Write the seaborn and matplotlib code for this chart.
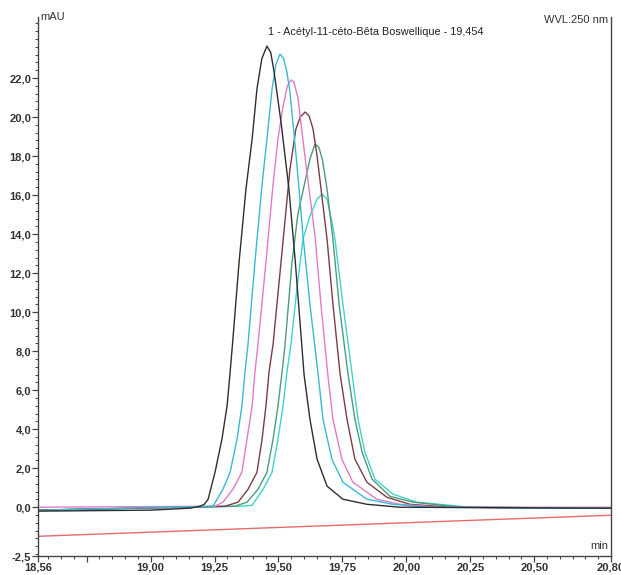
import matplotlib
matplotlib.use("Agg")
import matplotlib.pyplot as plt
import numpy as np
import pandas as pd
import seaborn as sns
from matplotlib.ticker import FixedLocator, MultipleLocator

# retention time (min) / absorbance (mAU)
black_t = [18.56, 19.00, 19.154, 19.193, 19.210, 19.225, 19.252, 19.279, 19.299, 19.311, 19.322,
           19.346, 19.373, 19.397, 19.416, 19.435, 19.455, 19.470, 19.483, 19.510, 19.541,
           19.565, 19.600, 19.623, 19.651, 19.690, 19.752, 19.846, 19.975, 20.80]
black_y = [-0.20, -0.15, -0.05, 0.05, 0.15, 0.41, 1.79, 3.49, 5.18, 6.92, 8.62,
           12.56, 16.31, 18.87, 21.44, 23.00, 23.64, 23.30, 22.31, 19.74, 16.31,
           12.72, 6.82, 4.51, 2.46, 1.08, 0.41, 0.15, 0.00, -0.05]

cyan_t = [18.56, 19.244, 19.283, 19.311, 19.338, 19.357, 19.369, 19.381, 19.408, 19.436,
          19.455, 19.475, 19.490, 19.506, 19.520, 19.533, 19.545, 19.572, 19.596, 19.623,
          19.655, 19.674, 19.709, 19.752, 19.846, 19.948, 20.09, 20.80]
cyan_y = [-0.15, 0.05, 0.92, 1.79, 3.49, 5.18, 6.92, 8.36, 12.56, 16.56,
          18.87, 21.44, 22.70, 23.23, 23.00, 22.31, 21.28, 17.59, 13.90, 10.41,
          6.82, 4.51, 2.46, 1.28, 0.41, 0.15, 0.00, -0.05]

pink_t = [18.56, 19.252, 19.283, 19.322, 19.357, 19.377, 19.397, 19.408, 19.420, 19.451,
          19.479, 19.498, 19.518, 19.535, 19.549, 19.560, 19.576, 19.607, 19.643, 19.666,
          19.694, 19.713, 19.748, 19.791, 19.885, 19.975, 20.13, 20.80]
pink_y = [0.00, 0.05, 0.26, 0.92, 1.79, 3.49, 5.18, 6.92, 8.36, 12.56,
          16.56, 18.87, 20.56, 21.60, 21.90, 21.80, 21.00, 17.59, 13.90, 10.41,
          6.67, 4.51, 2.46, 1.28, 0.41, 0.15, 0.00, 0.00]

brown_t = [18.56, 19.291, 19.342, 19.381, 19.416, 19.436, 19.451, 19.463, 19.479, 19.510,
           19.545, 19.568, 19.585, 19.604, 19.620, 19.635, 19.651, 19.690, 19.713, 19.741,
           19.768, 19.799, 19.846, 19.924, 20.014, 20.17, 20.80]
brown_y = [-0.15, 0.05, 0.26, 0.92, 1.79, 3.49, 5.18, 6.92, 8.36, 12.56,
           17.33, 19.38, 20.00, 20.26, 20.05, 19.40, 18.00, 13.74, 10.41, 6.82,
           4.51, 2.46, 1.28, 0.51, 0.15, 0.00, -0.05]

green_t = [18.56, 19.33, 19.377, 19.420, 19.455, 19.479, 19.498, 19.514, 19.526, 19.553,
           19.576, 19.604, 19.623, 19.643, 19.658, 19.672, 19.690, 19.713, 19.737, 19.772,
           19.799, 19.827, 19.866, 19.936, 20.026, 20.21, 20.80]
green_y = [-0.15, 0.05, 0.26, 0.92, 1.79, 3.49, 5.18, 6.92, 8.36, 12.56,
           15.03, 16.70, 17.85, 18.62, 18.45, 17.80, 16.31, 13.74, 10.41, 6.82,
           4.51, 2.82, 1.44, 0.56, 0.26, 0.00, -0.05]

teal_t = [18.56, 19.35, 19.397, 19.440, 19.475, 19.498, 19.518, 19.533, 19.549, 19.572,
          19.596, 19.623, 19.651, 19.670, 19.690, 19.709, 19.721, 19.752, 19.788, 19.811,
          19.838, 19.877, 19.948, 20.041, 20.25, 20.80]
teal_y = [-0.15, 0.05, 0.10, 0.92, 1.79, 3.49, 5.18, 6.92, 8.36, 11.18,
          13.74, 14.92, 15.79, 16.05, 15.79, 14.62, 13.74, 10.41, 6.82, 4.51,
          2.82, 1.44, 0.67, 0.26, 0.00, -0.05]

blank_t = [18.56, 20.80]
blank_y = [-1.49, -0.41]

x_ticks = [18.56, 18.75, 19.00, 19.25, 19.50, 19.75, 20.00, 20.25, 20.50, 20.80]
x_labels = ["18,56", "", "19,00", "19,25", "19,50", "19,75", "20,00", "20,25", "20,50", "20,80"]
y_ticks = [-2.5, 0, 2, 4, 6, 8, 10, 12, 14, 16, 18, 20, 22]
y_labels = ["-2,5"] + [f"{v:.1f}".replace(".", ",") for v in y_ticks[1:]]

sns.set_style("ticks")
plt.rcParams["font.family"] = ["Liberation Sans", "DejaVu Sans"]

fig = plt.figure(figsize=(6.21, 5.75), dpi=100)
ax = fig.add_axes([38 / 621, 1 - 556 / 575, (611 - 38) / 621, (556 - 17) / 575])

traces = [
    (blank_t, blank_y, "#e86a6a"),
    (teal_t, teal_y, "#3fd2cf"),
    (green_t, green_y, "#4f9a78"),
    (brown_t, brown_y, "#7b3c46"),
    (pink_t, pink_y, "#e07cc8"),
    (cyan_t, cyan_y, "#3bb8d4"),
    (black_t, black_y, "#2e2e2e"),
]
for t, y, c in traces:
    df = pd.DataFrame({"t": t, "y": y})
    sns.lineplot(data=df, x="t", y="y", ax=ax, color=c, lw=1.0, sort=False, estimator=None)

ax.set_xlim(18.56, 20.80)
ax.set_ylim(-2.5, 25.13)
ax.set_xlabel("")
ax.set_ylabel("")

ax.xaxis.set_major_locator(FixedLocator(x_ticks))
ax.set_xticklabels(x_labels)
ax.xaxis.set_minor_locator(MultipleLocator(0.05))
ax.yaxis.set_major_locator(FixedLocator(y_ticks))
ax.set_yticklabels(y_labels)
ax.yaxis.set_minor_locator(MultipleLocator(0.4))

ax.tick_params(which="major", length=4, width=0.9, color="#444", labelsize=8,
               labelcolor="#333", pad=1)
ax.tick_params(axis="x", which="major", pad=0.5)
ax.tick_params(which="minor", length=2.5, width=0.7, color="#444")
ax.tick_params(axis="x", which="both", top=False)
ax.tick_params(axis="y", which="both", right=False)
for lab in ax.get_xticklabels() + ax.get_yticklabels():
    lab.set_fontweight("bold")

ax.spines["top"].set_visible(False)
for s in ["left", "right", "bottom"]:
    ax.spines[s].set_color("#444")
    ax.spines[s].set_linewidth(1.0)

ax.text(0.004, 1.0, "mAU", transform=ax.transAxes, fontsize=8, color="#333",
        ha="left", va="center")
ax.text(0.995, 0.995, "WVL:250 nm", transform=ax.transAxes, fontsize=8, color="#333",
        ha="right", va="center")
ax.text(0.995, 0.018, "min", transform=ax.transAxes, fontsize=8, color="#333",
        ha="right", va="center")
ax.text(19.458, 24.35, "1 - Acétyl-11-céto-Bêta Boswellique - 19,454", fontsize=7.8,
        color="#222", ha="left", va="center")

fig.savefig("out.png", dpi=100)
